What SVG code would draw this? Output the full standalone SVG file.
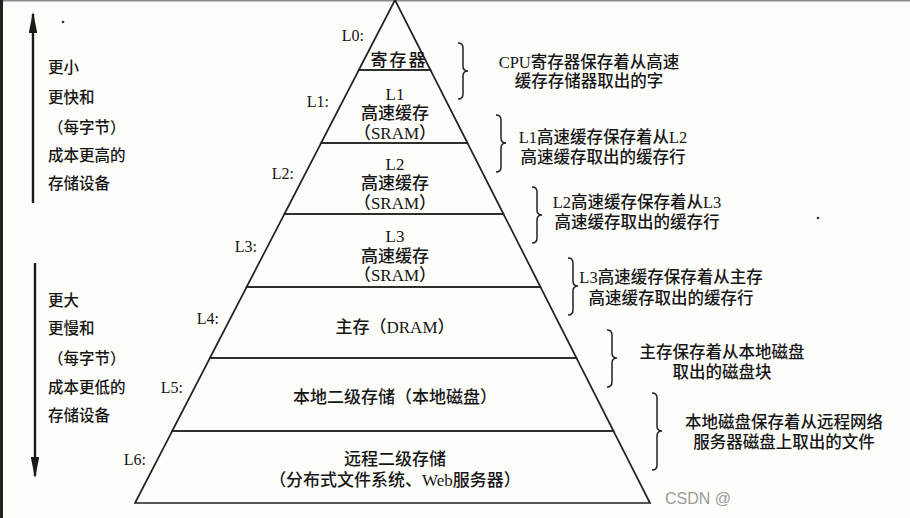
<svg xmlns="http://www.w3.org/2000/svg" width="910" height="518" viewBox="0 0 910 518">
<defs>
<style>
.bg{fill:#fdfdfa}
.lvl{fill:none;stroke:#222;stroke-width:1.7;stroke-linejoin:miter}
.t{font-family:"Liberation Serif","Noto Sans CJK SC",serif;font-size:17px;font-weight:500;fill:#161616;text-anchor:middle}
.lab{font-family:"Liberation Serif","Noto Sans CJK SC",serif;font-size:16px;fill:#161616;text-anchor:end}
.side{font-family:"Liberation Serif","Noto Sans CJK SC",serif;font-size:15.5px;font-weight:500;fill:#161616}
.note{font-family:"Liberation Serif","Noto Sans CJK SC",serif;font-size:16.5px;font-weight:500;fill:#161616;text-anchor:middle}
.brace{fill:none;stroke:#222;stroke-width:1.5}
.arr{stroke:#1a1a1a;stroke-width:2.4;fill:none}
.wm{font-family:"Liberation Sans","Noto Sans CJK SC",sans-serif;font-size:16px;fill:#9a9a9a}
</style>
<marker id="ah" viewBox="0 0 20 8" refX="18" refY="4" markerWidth="9" markerHeight="3.7" markerUnits="strokeWidth" orient="auto">
<path d="M0,0 L20,4 L0,8 Z" fill="#1a1a1a"/>
</marker>
</defs>
<rect class="bg" x="0" y="0" width="910" height="518"/>
<line x1="0" y1="0.8" x2="910" y2="0.8" stroke="#8a8a8a" stroke-width="1.6"/>
<rect x="0" y="0" width="3" height="518" fill="#222"/>
<circle cx="63" cy="22" r="1.3" fill="#333"/>
<circle cx="818" cy="218" r="1.3" fill="#333"/>

<g id="connectors">
<line class="arr" x1="33" y1="203" x2="33" y2="14" marker-end="url(#ah)"/>
<line class="arr" x1="35" y1="263" x2="35" y2="476" marker-end="url(#ah)"/>
<path class="brace" d="M458,43 q5,0 5,5 L463,66 q0,5 5,5 q-5,0 -5,5 L463,94 q0,5 -5,5"/>
<path class="brace" d="M496,115 q5,0 5,5 L501,138 q0,5 5,5 q-5,0 -5,5 L501,167 q0,5 -5,5"/>
<path class="brace" d="M532,187 q5,0 5,5 L537,210 q0,5 5,5 q-5,0 -5,5 L537,238 q0,5 -5,5"/>
<path class="brace" d="M568,258 q5,0 5,5 L573,281 q0,5 5,5 q-5,0 -5,5 L573,310 q0,5 -5,5"/>
<path class="brace" d="M607,330 q5,0 5,5 L612,353 q0,5 5,5 q-5,0 -5,5 L612,382 q0,5 -5,5"/>
<path class="brace" d="M652,393 q5,0 5,5 L657,426 q0,5 5,5 q-5,0 -5,5 L657,465 q0,5 -5,5"/>
</g>

<g id="left-up">
<text class="side" x="48" y="73">更小</text>
<text class="side" x="48" y="103">更快和</text>
<text class="side" x="48" y="133">（每字节）</text>
<text class="side" x="48" y="161">成本更高的</text>
<text class="side" x="48" y="189">存储设备</text>
</g>
<g id="left-down">
<text class="side" x="48" y="306">更大</text>
<text class="side" x="48" y="334">更慢和</text>
<text class="side" x="48" y="364">（每字节）</text>
<text class="side" x="48" y="393">成本更低的</text>
<text class="side" x="48" y="421">存储设备</text>
</g>

<g id="L0">
<polygon class="lvl" points="395,0 358.8,70 430.5,70"/>
<text class="lab" x="364" y="41">L0:</text>
<text class="t" x="399" y="66" letter-spacing="2">寄存器</text>
</g>
<g id="L1">
<polygon class="lvl" points="358.8,70 430.5,70 467.5,143 321.1,143"/>
<text class="lab" x="329" y="107">L1:</text>
<text class="t" x="395" y="100">L1</text>
<text class="t" x="395" y="119">高速缓存</text>
<text class="t" x="395" y="139">（SRAM）</text>
</g>
<g id="L2">
<polygon class="lvl" points="321.1,143 467.5,143 503.5,214 284.4,214"/>
<text class="lab" x="294" y="179">L2:</text>
<text class="t" x="395" y="170">L2</text>
<text class="t" x="395" y="189">高速缓存</text>
<text class="t" x="395" y="209">（SRAM）</text>
</g>
<g id="L3">
<polygon class="lvl" points="284.4,214 503.5,214 540.5,287 246.6,287"/>
<text class="lab" x="257" y="252">L3:</text>
<text class="t" x="395" y="242">L3</text>
<text class="t" x="395" y="262">高速缓存</text>
<text class="t" x="395" y="281">（SRAM）</text>
</g>
<g id="L4">
<polygon class="lvl" points="246.6,287 540.5,287 576.5,358 209.9,358"/>
<text class="lab" x="219" y="324">L4:</text>
<text class="t" x="395" y="333">主存（DRAM）</text>
</g>
<g id="L5">
<polygon class="lvl" points="209.9,358 576.5,358 613.5,431 172.2,431"/>
<text class="lab" x="183" y="393">L5:</text>
<text class="t" x="395" y="403">本地二级存储（本地磁盘）</text>
</g>
<g id="L6">
<polygon class="lvl" points="172.2,431 613.5,431 650,503 135,503"/>
<text class="lab" x="146" y="465">L6:</text>
<text class="t" x="395" y="465">远程二级存储</text>
<text class="t" x="395" y="486">（分布式文件系统、Web服务器）</text>
</g>

<g id="notes">
<text class="note" x="589" y="68">CPU寄存器保存着从高速</text>
<text class="note" x="589" y="87">缓存存储器取出的字</text>
<text class="note" x="603" y="143">L1高速缓存保存着从L2</text>
<text class="note" x="603" y="163">高速缓存取出的缓存行</text>
<text class="note" x="637" y="208">L2高速缓存保存着从L3</text>
<text class="note" x="637" y="228">高速缓存取出的缓存行</text>
<text class="note" x="671" y="283">L3高速缓存保存着从主存</text>
<text class="note" x="671" y="304">高速缓存取出的缓存行</text>
<text class="note" x="722" y="358">主存保存着从本地磁盘</text>
<text class="note" x="722" y="378">取出的磁盘块</text>
<text class="note" x="784" y="428">本地磁盘保存着从远程网络</text>
<text class="note" x="784" y="448">服务器磁盘上取出的文件</text>
</g>
<text class="wm" x="665" y="504">CSDN @</text>
</svg>
